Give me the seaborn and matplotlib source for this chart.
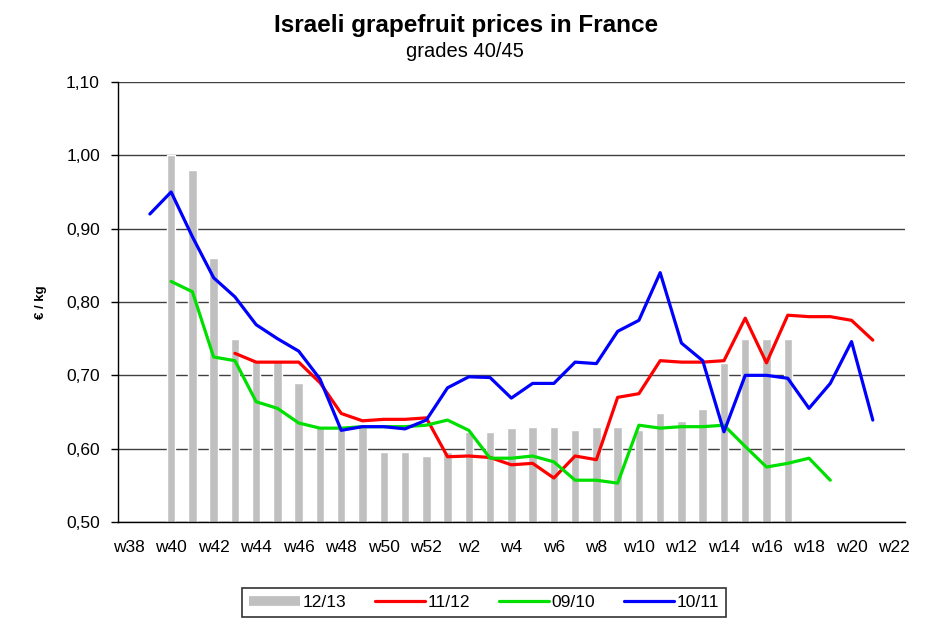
import numpy as np
import pandas as pd
import matplotlib.pyplot as plt
import seaborn as sns
from matplotlib.lines import Line2D
from matplotlib.ticker import FixedLocator

nan = np.nan

weeks = [f"w{i}" for i in range(38, 53)] + [f"w{i}" for i in range(1, 23)]

# 12/13 season (bars), w38 .. w22
price_1213 = [nan, nan, 1.00, 0.98, 0.86, 0.75, 0.72, 0.72, 0.69, 0.63, 0.63, 0.63,
              0.595, 0.595, 0.59,
              0.595, 0.623, 0.623, 0.628, 0.63, 0.63, 0.625, 0.63, 0.63, 0.625,
              0.648, 0.638, 0.654, 0.717, 0.75, 0.75, 0.75,
              nan, nan, nan, nan, nan]

price_1112 = [nan, nan, nan, nan, nan, 0.73, 0.718, 0.718, 0.718, 0.69, 0.648, 0.638,
              0.64, 0.64, 0.642,
              0.589, 0.59, 0.588, 0.578, 0.58, 0.56, 0.59, 0.585, 0.67, 0.675,
              0.72, 0.718, 0.718, 0.72, 0.778, 0.717, 0.782,
              0.78, 0.78, 0.775, 0.748, nan]

price_0910 = [nan, nan, 0.828, 0.814, 0.725, 0.72, 0.664, 0.655, 0.635, 0.628, 0.628, 0.63,
              0.63, 0.63, 0.632,
              0.639, 0.625, 0.587, 0.587, 0.59, 0.582, 0.557, 0.557, 0.553, 0.632,
              0.628, 0.63, 0.63, 0.632, 0.603, 0.575, 0.58,
              0.587, 0.557, nan, nan, nan]

price_1011 = [nan, 0.92, 0.95, 0.889, 0.833, 0.807, 0.769, 0.75, 0.733, 0.695, 0.625, 0.63,
              0.63, 0.627, 0.639,
              0.683, 0.698, 0.697, 0.669, 0.689, 0.689, 0.718, 0.716, 0.76, 0.775,
              0.84, 0.744, 0.72, 0.623, 0.70, 0.70, 0.696,
              0.655, 0.689, 0.746, 0.639, nan]

sns.set_style("white")
plt.rcParams['font.family'] = ['Liberation Sans', 'DejaVu Sans']
plt.rcParams['text.color'] = 'black'
plt.rcParams['axes.labelcolor'] = 'black'
plt.rcParams['xtick.color'] = 'black'
plt.rcParams['ytick.color'] = 'black'

fig = plt.figure(figsize=(9.26, 6.23), dpi=100)
ax = fig.add_axes([0.1274, 0.1621, 0.8496, 0.7063])

pos = np.arange(len(weeks))
sns.barplot(x=pos, y=price_1213, order=pos, color="#c0c0c0", width=0.4,
            saturation=1, ax=ax, zorder=2)

lines = [("11/12", price_1112, "#ff0000"),
         ("09/10", price_0910, "#00e000"),
         ("10/11", price_1011, "#0000ff")]
for name, vals, col in lines:
    df = pd.DataFrame({"pos": pos, "price": vals}).dropna()
    sns.lineplot(data=df, x="pos", y="price", color=col, linewidth=2.3,
                 ax=ax, zorder=3, solid_joinstyle="round", solid_capstyle="round")

ax.set_xlim(-0.5, len(weeks) - 0.5)
ax.set_ylim(0.5, 1.1)
yt = np.round(np.arange(0.5, 1.101, 0.1), 2)
ax.set_yticks(yt)
ax.set_yticklabels([f"{v:.2f}".replace(".", ",") for v in yt], fontsize=12.5)
ax.yaxis.grid(True, color="#404040", linewidth=1)
ax.set_axisbelow(True)

ax.set_xticks(pos[::2])
ax.set_xticklabels(weeks[::2], fontsize=12.5)
ax.xaxis.set_minor_locator(FixedLocator(np.arange(-0.5, len(weeks), 1)))
ax.tick_params(axis="x", which="major", length=0, pad=13)
ax.tick_params(axis="x", which="minor", length=5, width=1, color="black", direction="out")
ax.tick_params(axis="y", length=5, width=1, color="black", direction="out", left=True, pad=8)

for s in ["top", "right"]:
    ax.spines[s].set_visible(False)
for s in ["left", "bottom"]:
    ax.spines[s].set_color("black")
    ax.spines[s].set_linewidth(1)

ax.set_xlabel("")
ax.set_ylabel("€ / kg", fontsize=9.5, fontweight="bold", labelpad=14)

fig.text(0.503, 0.949, "Israeli grapefruit prices in France", ha="center", va="baseline",
         fontsize=17.5, fontweight="bold")
fig.text(0.502, 0.908, "grades 40/45", ha="center", va="baseline", fontsize=14.5)

handles = [Line2D([], [], color="#c0c0c0", linewidth=7, solid_capstyle="butt"),
           Line2D([], [], color="#ff0000", linewidth=2.3),
           Line2D([], [], color="#00e000", linewidth=2.3),
           Line2D([], [], color="#0000ff", linewidth=2.3)]
leg = fig.legend(handles, ["12/13", "11/12", "09/10", "10/11"], loc="center",
                 bbox_to_anchor=(0.523, 0.033), ncol=4, fontsize=12.5, frameon=True,
                 fancybox=False, edgecolor="black", handlelength=2.9, handletextpad=0.15,
                 columnspacing=1.65, borderpad=0.4, borderaxespad=0)
leg.get_frame().set_linewidth(1.2)

fig.savefig("out.png", dpi=100)
